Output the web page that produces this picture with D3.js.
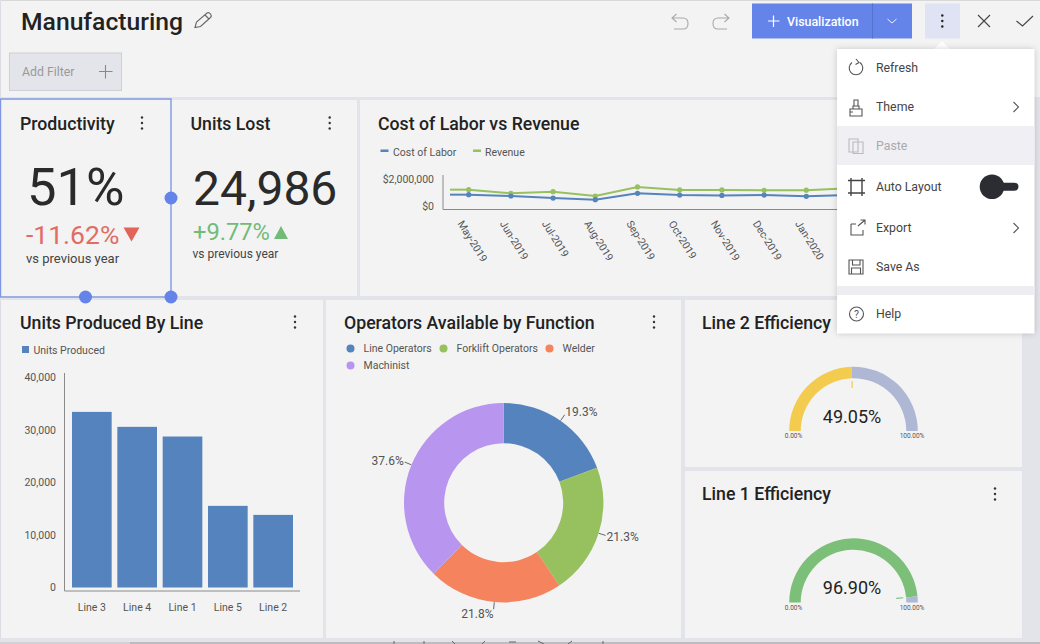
<!DOCTYPE html>
<html>
<head>
<meta charset="utf-8">
<title>Manufacturing</title>
<script src="https://cdn.jsdelivr.net/npm/d3@7"></script>
<style>
html, body { margin: 0; padding: 0; background: #f3f3f3; overflow: hidden; }
svg { display: block; }
text { font-family: Roboto, sans-serif; }
.tick text { font-size: 10.5px; fill: #555; }
.legend { font-size: 10.5px; fill: #555; }
.menu-item { font-size: 12.3px; fill: #444; }
</style>
</head>
<body>
<div id="chart"></div>
<script>
// line chart data
var months = ["May-2019", "Jun-2019", "Jul-2019", "Aug-2019", "Sep-2019", "Oct-2019", "Nov-2019", "Dec-2019", "Jan-2020", "Feb-2020"];
var costOfLabor = [840000, 740000, 590000, 470000, 940000, 810000, 780000, 810000, 720000, 810000];
var revenue = [1210000, 940000, 1060000, 740000, 1410000, 1190000, 1190000, 1160000, 1170000, 1310000];
var moneyTicks = [0, 2000000];

// bar chart data
var lines = ["Line 3", "Line 4", "Line 1", "Line 5", "Line 2"];
var unitsProduced = [33450, 30600, 28760, 15550, 13830];
var unitTicks = [0, 10000, 20000, 30000, 40000];

// donut data
var functions = ["Line Operators", "Forklift Operators", "Welder", "Machinist"];
var operatorShare = [19.3, 21.3, 21.8, 37.6];

// gauges and kpis
var gaugeNames = ["Line 2 Efficiency", "Line 1 Efficiency"];
var gaugeValues = [49.05, 96.90];
var menuItems = ["Refresh", "Theme", "Paste", "Auto Layout", "Export", "Save As", "Help"];

var svg = d3.select("#chart").append("svg").attr("width", 1040).attr("height", 644);

var BLUE = "#5583bd", GREEN = "#97c05f", ACCENT = "#6584ea", GAP = "#e3e3ea";
var TITLE_SIZE = 17.7;

// helper for the little text blocks
function label(txt, x, y, size, color, weight, anchor) {
    return svg.append("text").text(txt)
        .attr("x", x).attr("y", y)
        .attr("font-size", size)
        .attr("fill", color)
        .attr("font-weight", weight || 400)
        .attr("text-anchor", anchor || "start");
}

function kebab(x, y, color) {
    [-5.5, 0, 5.5].forEach(function (d) {
        svg.append("circle").attr("cx", x).attr("cy", y + d).attr("r", 1.2).attr("fill", color || "#333");
    });
}

function icon(d, color, width) {
    return svg.append("path").attr("d", d).attr("fill", "none")
        .attr("stroke", color || "#666").attr("stroke-width", width || 1.1);
}

// page background and the gaps between the panels
svg.append("rect").attr("width", 1040).attr("height", 644).attr("fill", "#f3f3f3");
svg.append("rect").attr("width", 1040).attr("height", 1).attr("fill", "#d8d8d8");
svg.append("rect").attr("width", 1).attr("height", 644).attr("fill", "#dcdce2");
svg.append("rect").attr("y", 97).attr("width", 1040).attr("height", 3).attr("fill", GAP);
svg.append("rect").attr("y", 296).attr("width", 1040).attr("height", 4).attr("fill", GAP);
svg.append("rect").attr("x", 357).attr("y", 97).attr("width", 3).attr("height", 200).attr("fill", GAP);
svg.append("rect").attr("x", 323).attr("y", 298).attr("width", 3).attr("height", 342).attr("fill", GAP);
svg.append("rect").attr("x", 681).attr("y", 298).attr("width", 4).attr("height", 342).attr("fill", GAP);
svg.append("rect").attr("x", 685).attr("y", 467).attr("width", 340).attr("height", 4).attr("fill", GAP);
svg.append("rect").attr("x", 1022).attr("y", 97).attr("width", 18).attr("height", 547).attr("fill", GAP);
svg.append("rect").attr("y", 638).attr("width", 1040).attr("height", 4).attr("fill", GAP);
svg.append("rect").attr("y", 642).attr("width", 130).attr("height", 2).attr("fill", "#d2d2d6");
svg.append("rect").attr("x", 130).attr("y", 642).attr("width", 910).attr("height", 2).attr("fill", "#bdbdbd");
// clipped scraps of the screen below the fold
icon("M394 641 V644 M424 641 V644 M452 641 L455 644 M482 644 L485 641 M509 642 H516 M538 641 L544 644 M568 644 L572 641 M603 641 V644", "#666", 1);

// header
label("Manufacturing", 21, 30, 24.7, "#222", 500);
icon("M195 27.5 L196.5 22 L207 13 Q209 12 210.5 14 Q212 16 210.5 17.5 L200.5 26.5 Z M205 15 L209 19", "#666");
icon("M672 18 L683 18 Q688 18 688 23.5 Q688 29 683 29 L674 29 M676.5 14 L672 18 L676.5 22", "#aaa");
icon("M729 18 L718 18 Q713 18 713 23.5 Q713 29 718 29 L727 29 M724.5 14 L729 18 L724.5 22", "#aaa");

// add filter button
svg.append("rect").attr("x", 9.5).attr("y", 53).attr("width", 112).attr("height", 37.5)
    .attr("fill", "#e4e5eb").attr("stroke", "#cfd0d6");
label("Add Filter", 22, 76, 12.3, "#999");
icon("M105.5 65 V78.5 M99 71.5 H112.5", "#888");

// kpi panels
label("Productivity", 20, 129.5, TITLE_SIZE, "#222", 500);
kebab(142, 123);
label("51%", 27, 205, 52.5, "#2a2a2a");
label("-11.62%", 26, 244, 26.5, "#e06c64");
svg.append("path").attr("d", "M123.5 227.5 H139.5 L131.5 241.5 Z").attr("fill", "#e2635a");
label("vs previous year", 26, 262.5, 13, "#444");

label("Units Lost", 190.5, 129.5, TITLE_SIZE, "#222", 500);
kebab(329.7, 123);
label("24,986", 193, 205, 48, "#2a2a2a");
label("+9.77%", 193, 240, 23.7, "#72bb77");
svg.append("path").attr("d", "M274 239 H288 L281 226 Z").attr("fill", "#72bb77");
label("vs previous year", 192.5, 257.5, 12, "#444");

// cost of labor vs revenue
label("Cost of Labor vs Revenue", 378, 129.5, TITLE_SIZE, "#222", 500);
svg.append("rect").attr("x", 380.5).attr("y", 149.5).attr("width", 8).attr("height", 2.5).attr("fill", BLUE);
svg.append("text").attr("class", "legend").attr("x", 393).attr("y", 155.5).text("Cost of Labor");
svg.append("rect").attr("x", 473).attr("y", 149.5).attr("width", 8).attr("height", 2.5).attr("fill", GREEN);
svg.append("text").attr("class", "legend").attr("x", 485).attr("y", 155.5).text("Revenue");

var xMonth = d3.scalePoint().domain(months).range([468.7, 848.5]);
var yMoney = d3.scaleLinear().domain([0, 2000000]).range([206, 179]);

var moneyAxis = svg.append("g").attr("transform", "translate(437,0)")
    .call(d3.axisLeft(yMoney).tickValues(moneyTicks).tickSize(0).tickPadding(3)
        .tickFormat(function (d) { return "$" + d3.format(",")(d); }));
moneyAxis.select(".domain").remove();

var monthAxis = svg.append("g").attr("transform", "translate(0,209.5)")
    .call(d3.axisBottom(xMonth).tickSize(0));
monthAxis.select(".domain").remove();
monthAxis.selectAll("text")
    .attr("text-anchor", "start")
    .attr("dy", 0).attr("y", 0).attr("x", 0)
    .attr("transform", "translate(-12,14) rotate(58)");

svg.append("path").attr("d", "M443 175 V209.5 H840").attr("fill", "none").attr("stroke", "#8a8a8a").attr("stroke-width", 1);

var moneyLine = d3.line()
    .x(function (d, i) { return xMonth(months[i]); })
    .y(function (d) { return yMoney(d); });

[[revenue, GREEN], [costOfLabor, BLUE]].forEach(function (s) {
    // flat lead-in before the first month, as the chart shows it
    svg.append("line")
        .attr("x1", xMonth(months[0]) - 18.7).attr("x2", xMonth(months[0]))
        .attr("y1", yMoney(s[0][0])).attr("y2", yMoney(s[0][0]))
        .attr("stroke", s[1]).attr("stroke-width", 2);
    svg.append("path").attr("d", moneyLine(s[0])).attr("fill", "none")
        .attr("stroke", s[1]).attr("stroke-width", 2);
    svg.selectAll(null).data(s[0]).enter().append("circle")
        .attr("cx", function (d, i) { return xMonth(months[i]); })
        .attr("cy", function (d) { return yMoney(d); })
        .attr("r", 2.6).attr("fill", s[1]);
});

// units produced by line
label("Units Produced By Line", 20, 328.5, TITLE_SIZE, "#222", 500);
kebab(295, 322);
svg.append("rect").attr("x", 22).attr("y", 346).attr("width", 7).attr("height", 7).attr("fill", BLUE);
svg.append("text").attr("class", "legend").attr("x", 33.5).attr("y", 354).text("Units Produced");

var xLine = d3.scaleBand().domain(lines).range([72, 293]).paddingInner(0.125);
var yUnits = d3.scaleLinear().domain([0, 40000]).range([587.5, 377.5]);

var unitAxis = svg.append("g").attr("transform", "translate(56,0)")
    .call(d3.axisLeft(yUnits).tickValues(unitTicks).tickSize(0).tickPadding(0).tickFormat(d3.format(",")));
unitAxis.select(".domain").remove();

var lineAxis = svg.append("g").attr("transform", "translate(0,604)")
    .call(d3.axisBottom(xLine).tickSize(0).tickPadding(0));
lineAxis.select(".domain").remove();

svg.selectAll(null).data(unitsProduced).enter().append("rect")
    .attr("x", function (d, i) { return xLine(lines[i]); })
    .attr("y", function (d) { return yUnits(d); })
    .attr("width", xLine.bandwidth())
    .attr("height", function (d) { return yUnits(0) - yUnits(d); })
    .attr("fill", BLUE);

svg.append("path").attr("d", "M64.5 373 V591 H300").attr("fill", "none").attr("stroke", "#8a8a8a").attr("stroke-width", 1);

// operators available by function
label("Operators Available by Function", 344, 328.5, TITLE_SIZE, "#222", 500);
kebab(654, 322);

var donutColors = [BLUE, GREEN, "#f4835e", "#b895ef"];
var legendSpots = [[350.5, 348.5], [443.5, 348.5], [549.5, 348.5], [350.5, 365.5]];
functions.forEach(function (name, i) {
    svg.append("circle").attr("cx", legendSpots[i][0]).attr("cy", legendSpots[i][1]).attr("r", 4).attr("fill", donutColors[i]);
    svg.append("text").attr("class", "legend").attr("x", legendSpots[i][0] + 13).attr("y", legendSpots[i][1] + 3.5).text(name);
});

var pie = d3.pie().sort(null);
var arc = d3.arc().innerRadius(59.5).outerRadius(99.7);
var donut = svg.append("g").attr("transform", "translate(503.7,502.7)");

pie(operatorShare).forEach(function (slice, i) {
    donut.append("path").attr("d", arc(slice)).attr("fill", donutColors[i]);

    // leader line and label sit on the middle angle of the slice
    var mid = (slice.startAngle + slice.endAngle) / 2;
    var s = Math.sin(mid), c = Math.cos(mid);
    donut.append("line")
        .attr("x1", s * 100).attr("y1", -c * 100)
        .attr("x2", s * 107).attr("y2", -c * 107)
        .attr("stroke", "#666").attr("stroke-width", 1);
    donut.append("text")
        .attr("x", s * 108).attr("y", -c * 108 - c * 3 + 4.5)
        .attr("text-anchor", s > 0 ? "start" : "end")
        .attr("font-size", 12).attr("fill", "#555")
        .text(operatorShare[i] + "%");
});

// gauges
var gaugeColors = ["#f3cb4f", "#7bbf78"];
var gaugeCenters = [431, 602.6];
var angle = d3.scaleLinear().domain([0, 100]).range([-Math.PI / 2, Math.PI / 2]);
var gaugeArc = d3.arc().innerRadius(52.8).outerRadius(64.3);

gaugeNames.forEach(function (name, i) {
    var cy = gaugeCenters[i];
    var a = angle(gaugeValues[i]);
    var g = svg.append("g").attr("transform", "translate(853.5," + cy + ")");

    label(name, 702, i == 0 ? 328.5 : 500, TITLE_SIZE, "#222", 500);

    g.append("path").attr("d", gaugeArc({ startAngle: angle(0), endAngle: a })).attr("fill", gaugeColors[i]);
    g.append("path").attr("d", gaugeArc({ startAngle: a, endAngle: angle(100) })).attr("fill", "#aeb8d5");
    g.append("line")
        .attr("x1", Math.sin(a) * 43).attr("y1", -Math.cos(a) * 43)
        .attr("x2", Math.sin(a) * 50).attr("y2", -Math.cos(a) * 50)
        .attr("stroke", gaugeColors[i]).attr("stroke-width", 1.2);

    g.append("text").attr("x", -1.5).attr("y", -8.5).attr("text-anchor", "middle")
        .attr("font-size", 18).attr("fill", "#222").text(gaugeValues[i].toFixed(2) + "%");
    g.append("text").attr("x", -60).attr("y", 7).attr("text-anchor", "middle")
        .attr("font-size", 6.5).attr("fill", "#555").text("0.00%");
    g.append("text").attr("x", 58.5).attr("y", 7).attr("text-anchor", "middle")
        .attr("font-size", 6.5).attr("fill", "#555").text("100.00%");
});
kebab(995, 494);

// selection frame around productivity
svg.append("rect").attr("x", 0.5).attr("y", 99).attr("width", 170.5).attr("height", 198)
    .attr("fill", "none").attr("stroke", "#7f97e2").attr("stroke-width", 1.4);
[[171, 198], [85.5, 297], [171, 297]].forEach(function (p) {
    svg.append("circle").attr("cx", p[0]).attr("cy", p[1]).attr("r", 6.5).attr("fill", ACCENT);
});

// toolbar buttons
svg.append("rect").attr("x", 752).attr("y", 3.5).attr("width", 160).attr("height", 35).attr("fill", ACCENT);
svg.append("line").attr("x1", 872.5).attr("x2", 872.5).attr("y1", 3.5).attr("y2", 38.5).attr("stroke", "#5571d0");
icon("M773.5 15.5 V27 M768 21 H779.5", "#fff", 1.2);
label("Visualization", 787, 25.5, 12.4, "#fff", 500);
icon("M887.5 19 L892 23 L896.5 19", "#fff", 0.9);
svg.append("rect").attr("x", 925).attr("y", 3.5).attr("width", 35).attr("height", 35).attr("fill", "#dfe3f4");
kebab(942.3, 21, "#222");
icon("M978 15 L990 27 M990 15 L978 27", "#444");
icon("M1016.5 21 L1022.5 26 L1033 16", "#444");

// dropdown menu
svg.append("path").attr("d", "M934 49 L942 41 L950 49 Z").attr("fill", "#fff");
svg.append("rect").attr("x", 837).attr("y", 49).attr("width", 197.5).attr("height", 284.5)
    .attr("fill", "#fff").style("filter", "drop-shadow(0 0 3px rgba(0,0,0,0.18))");
svg.append("rect").attr("x", 837).attr("y", 126).attr("width", 197.5).attr("height", 39).attr("fill", "#efeff4");
svg.append("rect").attr("x", 837).attr("y", 286).attr("width", 197.5).attr("height", 9).attr("fill", "#ededf2");

var menuY = [68, 107, 145.5, 187, 228, 267, 314];
menuItems.forEach(function (name, i) {
    svg.append("text").attr("class", "menu-item").attr("x", 876).attr("y", menuY[i] + 4)
        .style("fill", name == "Paste" ? "#aaa" : null)
        .text(name);
});

icon("M852 62.5 A6.8 6.8 0 1 0 860 62.5 M856 59 L859 62.5 L855.5 64.5", "#555");
icon("M850 109 H862 V116 H850 Z M850 112 H853 M853 109 V106 H859 V109 M854 106 V100 H858 V106", "#555");
icon("M849 139 H858 V152 H849 Z M853 142 H863 V153.5 H853 Z", "#bbb");
icon("M851 180.5 H862 V193 H851 Z M848 180.5 H865 M848 193 H865 M851 178 V196 M862 178 V196", "#444", 1.4);
icon("M851 224 H856 M851 224 V235 H863 V230 M858 226 L865 220 M860.5 220 H865 V224.5", "#555");
icon("M849 260 H863 V274 H849 Z M852.5 260 V265 H860 V260 M851.5 274 V268 H860.5 V274", "#555");
svg.append("circle").attr("cx", 856.5).attr("cy", 314).attr("r", 7).attr("fill", "none").attr("stroke", "#555").attr("stroke-width", 1.1);
label("?", 856.5, 318, 10.5, "#555", 400, "middle");
icon("M1013.5 102 L1018.5 107 L1013.5 112", "#555");
icon("M1013.5 223 L1018.5 228 L1013.5 233", "#555");

// auto layout toggle
svg.append("rect").attr("x", 990).attr("y", 182.7).attr("width", 28.5).attr("height", 8).attr("rx", 4).attr("fill", "#2b2d33");
svg.append("circle").attr("cx", 992).attr("cy", 186.7).attr("r", 12.3).attr("fill", "#2b2d33");
</script>
</body>
</html>
